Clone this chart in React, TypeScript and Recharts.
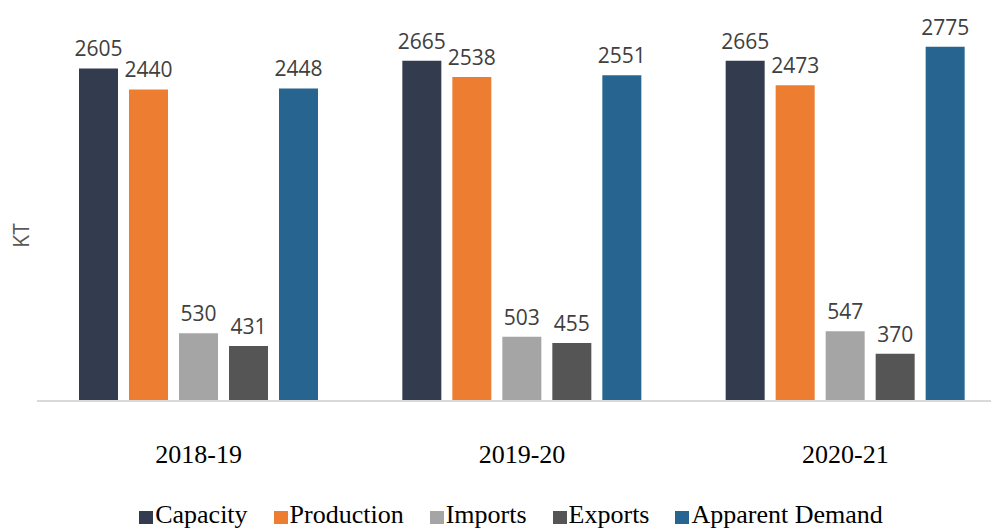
import React from 'react';
import { BarChart, Bar, XAxis, YAxis, LabelList } from 'recharts';

const categories = ['2018-19', '2019-20', '2020-21'];
const capacity = [2605, 2665, 2665];
const production = [2440, 2538, 2473];
const imports = [530, 503, 547];
const exportsKt = [431, 455, 370];
const apparentDemand = [2448, 2551, 2775];

const series = [
    { key: 'capacity', name: 'Capacity', color: '#333b4f' },
    { key: 'production', name: 'Production', color: '#ed7d31' },
    { key: 'imports', name: 'Imports', color: '#a5a5a5' },
    { key: 'exports', name: 'Exports', color: '#555555' },
    { key: 'apparentDemand', name: 'Apparent Demand', color: '#276590' },
];

const data = categories.map((name, i) => ({
    name,
    capacity: capacity[i],
    production: production[i],
    imports: imports[i],
    exports: exportsKt[i],
    apparentDemand: apparentDemand[i],
}));

const labelFont = '"Open Sans", sans-serif';
const serifFont = '"Liberation Serif", "Times New Roman", serif';

const CategoryTick = (props: any) => {
    const { x, y, payload } = props;
    return (
        <text x={x} y={y + 60} textAnchor="middle" fontSize={26} fontFamily={serifFont} fill="#000">
            {payload.value}
        </text>
    );
};

const App: React.FC = () => {
    return (
        <div style={{ position: 'fixed', left: 0, top: 0, width: 991, height: 528, overflow: 'hidden', background: '#fff' }}>
            <BarChart
                width={1007}
                height={480}
                data={data}
                margin={{ top: 18, right: 0, left: 0, bottom: 0 }}
                barSize={39}
                barGap={11}
            >
                <XAxis
                    dataKey="name"
                    height={79}
                    tickLine={false}
                    tickSize={0}
                    axisLine={{ stroke: '#d9d9d9', strokeWidth: 2 }}
                    tick={<CategoryTick />}
                    interval={0}
                />
                <YAxis
                    width={37}
                    domain={[0, 3000]}
                    tick={false}
                    axisLine={false}
                    tickLine={false}
                    label={{ value: 'KT', angle: -90, position: 'center', dx: 3, dy: 26, fill: '#595959', fontSize: 21, fontFamily: labelFont }}
                />
                {series.map((s) => (
                    <Bar key={s.key} dataKey={s.key} name={s.name} fill={s.color} isAnimationActive={false}>
                        <LabelList dataKey={s.key} position="top" offset={12} fill="#404040" fontSize={21} fontFamily={labelFont} />
                    </Bar>
                ))}
            </BarChart>
            <div
                style={{
                    position: 'absolute',
                    left: 0,
                    width: 1022,
                    top: 500,
                    display: 'flex',
                    justifyContent: 'center',
                    gap: 26,
                    fontFamily: serifFont,
                    fontSize: 26,
                    lineHeight: '30px',
                    color: '#000',
                }}
            >
                {series.map((s) => (
                    <div key={s.key} style={{ display: 'flex', alignItems: 'center' }}>
                        <span style={{ display: 'inline-block', width: 14, height: 13, background: s.color, marginRight: 2, marginTop: 4 }} />
                        <span>{s.name}</span>
                    </div>
                ))}
            </div>
        </div>
    );
};

export default App;
